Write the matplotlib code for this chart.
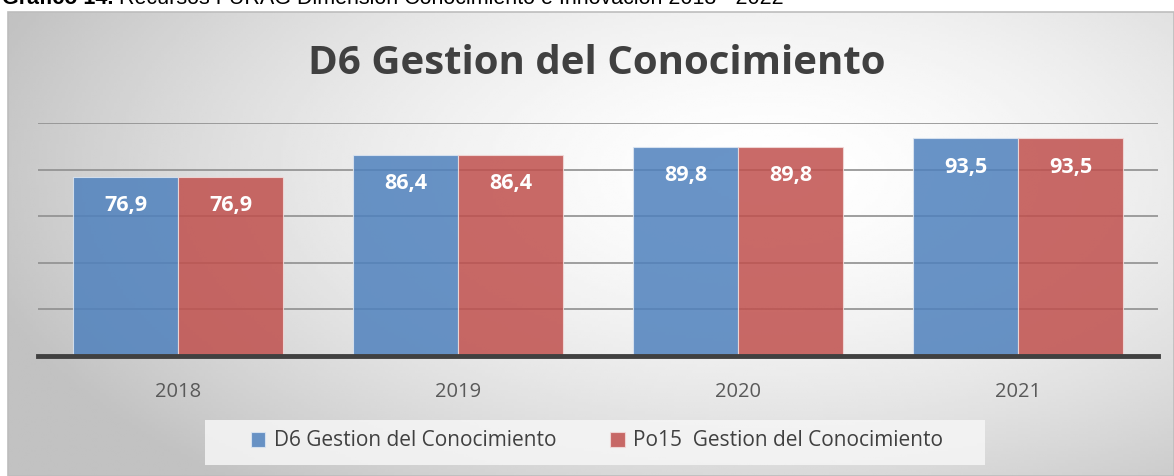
import numpy as np
import matplotlib.pyplot as plt
from matplotlib.patches import Rectangle

years = ['2018', '2019', '2020', '2021']
d6_vals = [76.9, 86.4, 89.8, 93.5]
po15_vals = [76.9, 86.4, 89.8, 93.5]
series_names = ['D6 Gestion del Conocimiento', 'Po15  Gestion del Conocimiento']
title = 'D6 Gestion del Conocimiento'

BLUE = '#4f81bd'
RED = '#c0504d'
FONT = ['Open Sans', 'DejaVu Sans']

W, H = 1174, 476
fig = plt.figure(figsize=(W / 100, H / 100), dpi=100)
fig.patch.set_facecolor('white')

# gradient background of the chart box (radial, light in the middle)
x0, y0 = 8, 12
bw_box, bh_box = W - x0, H - y0
bg = fig.add_axes([x0 / W, 0, bw_box / W, bh_box / H], zorder=-10)
gx, gy = np.meshgrid(np.linspace(0, 1, 400), np.linspace(0, 1, 160))
d = np.sqrt(((gx - 0.65) / 0.75) ** 2 + ((gy - 0.35) / 0.95) ** 2)
shade = np.clip(1.0 - 0.27 * d ** 1.6, 0.76, 1.0)
bg.imshow(shade, cmap='gray', vmin=0, vmax=1, aspect='auto',
          extent=[0, 1, 1, 0], interpolation='bilinear')
bg.set_xlim(0, 1)
bg.set_ylim(1, 0)
bg.axis('off')
bg.add_patch(Rectangle((0, 0), 1, 1, transform=bg.transAxes, fill=False,
                       edgecolor='#bdbdbd', lw=1.2, clip_on=False))

# legend box (pixels from top-left: x 205..985, y 420..465)
bg.add_patch(Rectangle(((205 - x0) / bw_box, 1 - (465 - y0) / bh_box),
                       780 / bw_box, 45 / bh_box,
                       transform=bg.transAxes, facecolor='#f6f6f6',
                       edgecolor='none', alpha=0.85))

ax = fig.add_axes([38 / W, 120 / H, 1120 / W, 233 / H])
ax.set_facecolor('none')

x = np.arange(len(years))
bw = 0.375
b1 = ax.bar(x - bw / 2, d6_vals, bw, color=BLUE, alpha=0.85,
            edgecolor='#dce6f2', linewidth=0.8, zorder=3)
b2 = ax.bar(x + bw / 2, po15_vals, bw, color=RED, alpha=0.85,
            edgecolor='#f2dcdb', linewidth=0.8, zorder=3)

for bars, vals in ((b1, d6_vals), (b2, po15_vals)):
    for r, v in zip(bars, vals):
        ax.text(r.get_x() + r.get_width() / 2, v - 12.5,
                f'{v:.1f}'.replace('.', ','), ha='center', va='center',
                color='white', fontsize=15.5, fontweight='bold',
                family=FONT, zorder=4)

ax.set_xlim(-0.5, len(years) - 0.5)
ax.set_ylim(0, 100)
ax.set_yticks([20, 40, 60, 80, 100])
ax.yaxis.grid(True, color='#8f8f8f', lw=1.2, zorder=1)
ax.set_axisbelow(True)
ax.tick_params(axis='y', left=False, labelleft=False)
ax.tick_params(axis='x', bottom=False, pad=15)
ax.set_xticks(x)
ax.set_xticklabels(years, fontsize=14.5, color='#595959', family=FONT)
for s in ('top', 'right', 'left'):
    ax.spines[s].set_visible(False)
ax.spines['bottom'].set_color('#404040')
ax.spines['bottom'].set_linewidth(3.5)
ax.spines['bottom'].set_zorder(5)

fig.text(597 / W, 1 - 63 / H, title, ha='center', va='center',
         fontsize=29, fontweight='bold', color='#404040', family=FONT)

leg = fig.legend([b1, b2], series_names, loc='center',
                 bbox_to_anchor=(597 / W, 1 - 441 / H), ncol=2,
                 frameon=False, handlelength=0.7, handleheight=0.7,
                 columnspacing=2.6, handletextpad=0.4,
                 prop={'family': FONT, 'size': 15})
for t in leg.get_texts():
    t.set_color('#404040')

# caption that is cut off at the top edge, as in the source
cap1 = fig.text(0.002, 1 - 4 / H, 'Gráfico 14.', fontsize=15.5,
                fontweight='bold', family='Liberation Sans', va='baseline',
                color='black')
fig.canvas.draw()
bb = cap1.get_window_extent()
fig.text(bb.x1 / W + 0.004, 1 - 4 / H,
         'Recursos FURAG Dimensión Conocimiento e Innovación 2018 - 2022',
         fontsize=15.5, family='Liberation Sans', va='baseline', color='black')

fig.savefig('out.png', dpi=100)
